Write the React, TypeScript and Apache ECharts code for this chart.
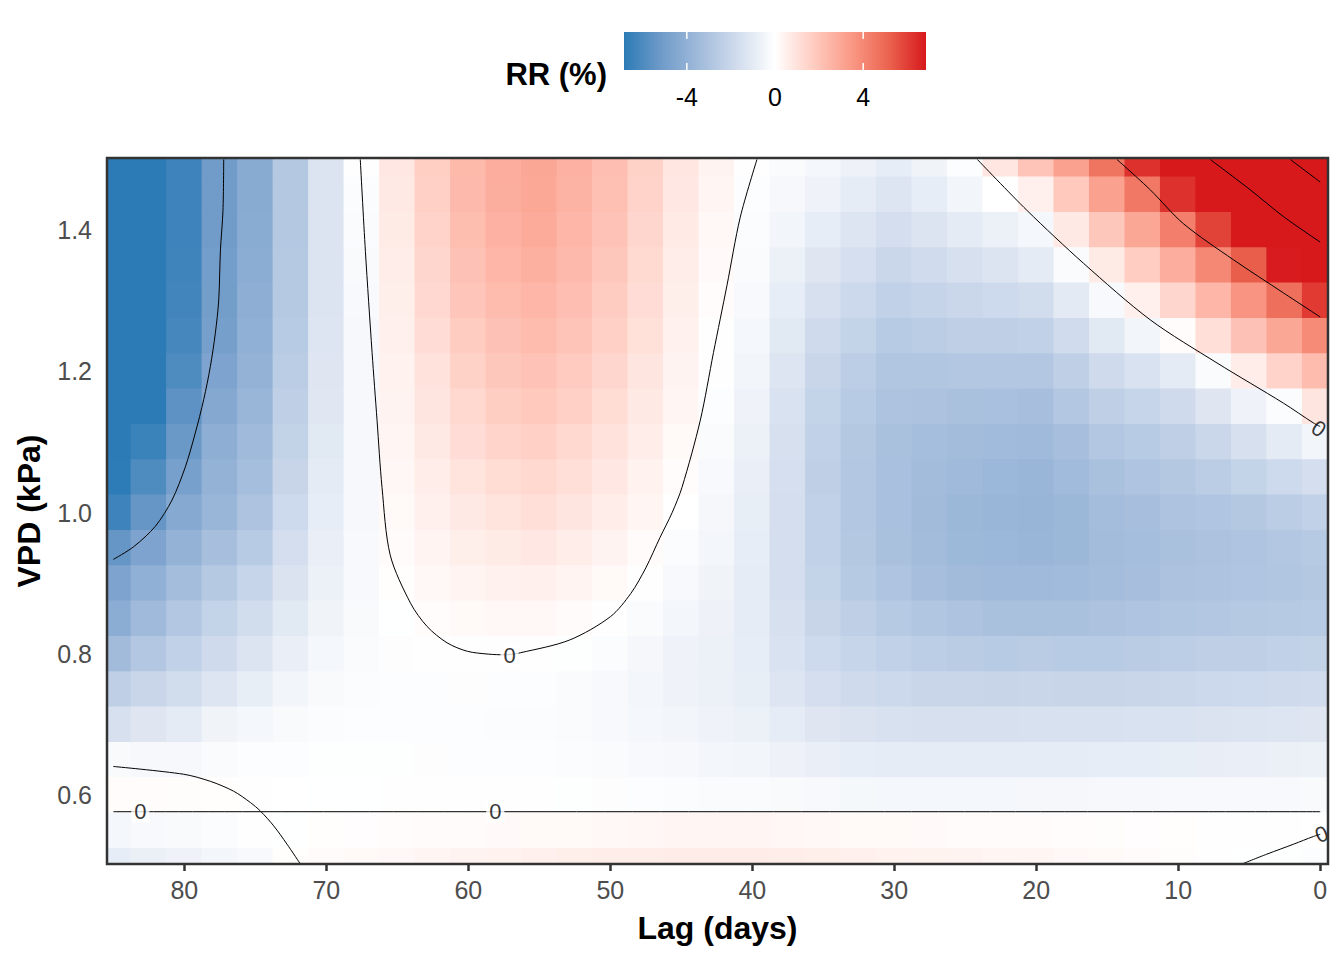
import React, { useEffect, useRef } from "react";
import * as echarts from "echarts";

// ---------- data ----------
// lag columns (days) and VPD rows (kPa, top to bottom)
const lags = [85, 82.5, 80, 77.5, 75, 72.5, 70, 67.5, 65, 62.5, 60, 57.5, 55, 52.5, 50, 47.5, 45, 42.5, 40, 37.5, 35, 32.5, 30, 27.5, 25, 22.5, 20, 17.5, 15, 12.5, 10, 7.5, 5, 2.5, 0];
const vpdRows = [1.5, 1.45, 1.4, 1.35, 1.3, 1.25, 1.2, 1.15, 1.1, 1.05, 1.0, 0.95, 0.9, 0.85, 0.8, 0.75, 0.7, 0.65, 0.6, 0.55, 0.5];

// RR (%) per lag column, one value per VPD row (1.5 -> 0.5)
const rrLag85 = [-7.5, -7.5, -7.5, -7.5, -7.5, -7.4, -7.3, -7.2, -7.0, -6.8, -6.4, -5.4, -4.7, -4.2, -3.4, -2.4, -1.5, -0.25, 0.1, -0.4, -0.9];
const rrLag82_5 = [-7.6, -7.6, -7.6, -7.6, -7.5, -7.4, -7.2, -6.9, -6.5, -6.0, -5.4, -4.7, -4.0, -3.5, -2.8, -2.0, -1.2, -0.35, 0.1, -0.3, -0.75];
const rrLag80 = [-6.4, -6.4, -6.4, -6.35, -6.3, -6.2, -6.0, -5.6, -5.3, -4.85, -4.4, -3.9, -3.3, -2.8, -2.3, -1.7, -1.0, -0.35, 0.08, -0.25, -0.6];
const rrLag77_5 = [-5.1, -5.1, -5.1, -5.05, -5.0, -4.9, -4.7, -4.45, -4.1, -3.9, -3.7, -3.2, -2.7, -2.2, -1.8, -1.25, -0.55, -0.2, 0.05, -0.15, -0.45];
const rrLag75 = [-4.3, -4.3, -4.25, -4.2, -4.1, -4.0, -3.9, -3.7, -3.5, -3.25, -3.0, -2.6, -2.1, -1.7, -1.3, -0.85, -0.4, -0.12, 0.02, -0.05, -0.3];
const rrLag72_5 = [-2.75, -2.75, -2.75, -2.7, -2.7, -2.6, -2.5, -2.4, -2.25, -2.05, -1.85, -1.6, -1.35, -1.1, -0.8, -0.5, -0.25, -0.1, 0.0, -0.02, 0.05];
const rrLag70 = [-1.3, -1.3, -1.3, -1.3, -1.3, -1.25, -1.2, -1.15, -1.1, -1.0, -0.9, -0.8, -0.7, -0.55, -0.4, -0.25, -0.15, -0.07, -0.02, 0.05, 0.15];
const rrLag67_5 = [-0.05, -0.15, -0.2, -0.25, -0.3, -0.35, -0.35, -0.35, -0.35, -0.35, -0.35, -0.3, -0.3, -0.25, -0.2, -0.15, -0.1, -0.06, -0.02, 0.06, 0.2];
const rrLag65 = [0.8, 0.75, 0.7, 0.62, 0.55, 0.5, 0.45, 0.4, 0.33, 0.27, 0.2, 0.12, 0.05, -0.02, -0.08, -0.1, -0.1, -0.07, -0.03, 0.1, 0.25];
const rrLag62_5 = [1.65, 1.6, 1.5, 1.4, 1.3, 1.15, 1.0, 0.88, 0.75, 0.62, 0.5, 0.37, 0.25, 0.1, -0.03, -0.1, -0.12, -0.09, -0.04, 0.12, 0.32];
const rrLag60 = [2.4, 2.35, 2.25, 2.1, 1.95, 1.75, 1.55, 1.35, 1.15, 0.95, 0.75, 0.55, 0.38, 0.2, 0.03, -0.08, -0.12, -0.1, -0.04, 0.15, 0.4];
const rrLag57_5 = [2.8, 2.75, 2.65, 2.5, 2.3, 2.1, 1.9, 1.68, 1.45, 1.2, 0.95, 0.7, 0.47, 0.24, 0.02, -0.1, -0.14, -0.11, -0.05, 0.18, 0.45];
const rrLag55 = [3.0, 2.95, 2.85, 2.7, 2.5, 2.3, 2.05, 1.85, 1.6, 1.35, 1.1, 0.8, 0.5, 0.25, 0.02, -0.1, -0.15, -0.12, -0.05, 0.2, 0.5];
const rrLag52_5 = [2.65, 2.6, 2.5, 2.35, 2.2, 2.0, 1.8, 1.6, 1.35, 1.1, 0.88, 0.62, 0.38, 0.15, -0.06, -0.2, -0.22, -0.17, -0.06, 0.22, 0.55];
const rrLag50 = [2.2, 2.15, 2.05, 1.9, 1.75, 1.6, 1.4, 1.2, 1.0, 0.8, 0.6, 0.4, 0.2, 0.02, -0.15, -0.3, -0.3, -0.22, -0.08, 0.25, 0.6];
const rrLag47_5 = [1.55, 1.5, 1.4, 1.28, 1.15, 1.03, 0.9, 0.75, 0.6, 0.45, 0.3, 0.13, -0.05, -0.2, -0.38, -0.45, -0.4, -0.28, -0.11, 0.28, 0.63];
const rrLag45 = [0.85, 0.8, 0.72, 0.62, 0.55, 0.48, 0.4, 0.3, 0.2, 0.1, 0.0, -0.15, -0.3, -0.45, -0.6, -0.6, -0.5, -0.35, -0.15, 0.3, 0.65];
const rrLag42_5 = [0.4, 0.33, 0.25, 0.17, 0.1, 0.03, -0.05, -0.12, -0.2, -0.3, -0.38, -0.45, -0.55, -0.65, -0.72, -0.72, -0.6, -0.45, -0.18, 0.3, 0.65];
const rrLag40 = [0.03, -0.1, -0.15, -0.2, -0.3, -0.4, -0.5, -0.6, -0.7, -0.8, -0.85, -0.9, -0.95, -0.95, -0.9, -0.85, -0.7, -0.5, -0.2, 0.3, 0.65];
const rrLag37_5 = [-0.2, -0.35, -0.5, -0.7, -0.9, -1.1, -1.25, -1.4, -1.5, -1.55, -1.6, -1.6, -1.6, -1.5, -1.4, -1.25, -0.95, -0.65, -0.25, 0.28, 0.6];
const rrLag35 = [-0.4, -0.6, -0.9, -1.2, -1.5, -1.8, -2.0, -2.2, -2.3, -2.35, -2.3, -2.3, -2.2, -2.05, -1.85, -1.6, -1.2, -0.8, -0.3, 0.25, 0.55];
const rrLag32_5 = [-0.65, -0.95, -1.25, -1.55, -1.9, -2.2, -2.45, -2.6, -2.75, -2.8, -2.8, -2.75, -2.65, -2.4, -2.1, -1.78, -1.35, -0.88, -0.36, 0.22, 0.5];
const rrLag30 = [-0.9, -1.25, -1.6, -1.95, -2.3, -2.6, -2.85, -3.0, -3.1, -3.15, -3.15, -3.1, -2.95, -2.65, -2.3, -1.9, -1.45, -0.95, -0.4, 0.2, 0.45];
const rrLag27_5 = [-0.55, -0.9, -1.3, -1.75, -2.15, -2.5, -2.85, -3.05, -3.25, -3.35, -3.4, -3.35, -3.2, -2.85, -2.45, -2.0, -1.5, -0.95, -0.4, 0.18, 0.42];
const rrLag25 = [-0.1, -0.5, -1.0, -1.5, -1.95, -2.4, -2.8, -3.1, -3.35, -3.5, -3.6, -3.55, -3.4, -3.0, -2.55, -2.0, -1.5, -0.95, -0.4, 0.15, 0.4];
const rrLag22_5 = [0.85, 0.0, -0.7, -1.3, -1.85, -2.35, -2.8, -3.15, -3.45, -3.65, -3.7, -3.65, -3.5, -3.1, -2.6, -2.05, -1.5, -0.95, -0.4, 0.14, 0.35];
const rrLag20 = [2.0, 0.5, -0.4, -1.0, -1.7, -2.3, -2.8, -3.2, -3.5, -3.7, -3.75, -3.7, -3.5, -3.1, -2.55, -2.0, -1.45, -0.95, -0.38, 0.12, 0.3];
const rrLag17_5 = [3.2, 1.85, 0.75, -0.2, -1.05, -1.75, -2.35, -2.8, -3.2, -3.45, -3.6, -3.6, -3.45, -3.1, -2.6, -2.05, -1.45, -0.93, -0.37, 0.1, 0.25];
const rrLag15 = [4.6, 3.2, 1.9, 0.7, -0.3, -1.1, -1.8, -2.35, -2.8, -3.1, -3.3, -3.35, -3.3, -3.05, -2.6, -2.05, -1.45, -0.9, -0.35, 0.08, 0.2];
const rrLag12_5 = [6.3, 4.5, 3.0, 1.7, 0.5, -0.5, -1.4, -2.1, -2.6, -2.95, -3.2, -3.25, -3.2, -2.95, -2.55, -2.0, -1.42, -0.88, -0.33, 0.06, 0.14];
const rrLag10 = [8.3, 6.3, 4.3, 2.8, 1.4, 0.1, -1.0, -1.8, -2.35, -2.75, -3.0, -3.1, -3.05, -2.85, -2.45, -1.95, -1.4, -0.85, -0.3, 0.05, 0.08];
const rrLag7_5 = [10.2, 8.1, 5.9, 4.0, 2.5, 1.1, -0.2, -1.2, -1.95, -2.5, -2.9, -3.05, -3.0, -2.8, -2.4, -1.9, -1.35, -0.83, -0.29, 0.03, 0.03];
const rrLag5 = [12.5, 10.0, 7.4, 5.3, 3.6, 2.1, 0.6, -0.6, -1.5, -2.2, -2.75, -2.95, -2.9, -2.7, -2.35, -1.85, -1.3, -0.8, -0.28, 0.02, -0.02];
const rrLag2_5 = [15.3, 12.2, 9.4, 6.8, 4.8, 3.0, 1.5, -0.15, -1.0, -1.85, -2.5, -2.8, -2.85, -2.65, -2.3, -1.8, -1.25, -0.75, -0.27, 0.02, -0.06];
const rrLag0 = [17.5, 14.0, 11.0, 8.3, 6.1, 3.9, 2.3, 0.9, -0.5, -1.6, -2.3, -2.65, -2.75, -2.6, -2.25, -1.75, -1.2, -0.7, -0.25, 0.01, -0.1];

const rrByLag = [rrLag85, rrLag82_5, rrLag80, rrLag77_5, rrLag75, rrLag72_5, rrLag70, rrLag67_5, rrLag65, rrLag62_5,
  rrLag60, rrLag57_5, rrLag55, rrLag52_5, rrLag50, rrLag47_5, rrLag45, rrLag42_5, rrLag40, rrLag37_5, rrLag35,
  rrLag32_5, rrLag30, rrLag27_5, rrLag25, rrLag22_5, rrLag20, rrLag17_5, rrLag15, rrLag12_5, rrLag10, rrLag7_5,
  rrLag5, rrLag2_5, rrLag0];

// contour lines [lag, vpd]
const contourZeroU = [[67.61, 1.5], [67.25, 1.37], [66.78, 1.227], [66.43, 1.131], [66.08, 1.036], [65.5, 0.94],
  [64.07, 0.872], [62.9, 0.839], [61.5, 0.816], [60.07, 0.804], [58.6, 0.8], [57.4, 0.799], [56.31, 0.802],
  [52.86, 0.82], [49.99, 0.853], [48.55, 0.886], [47.5, 0.922], [46.5, 0.965], [45.65, 1.0], [44.95, 1.036],
  [43.66, 1.131], [42.73, 1.227], [41.78, 1.322], [40.85, 1.418], [39.67, 1.5]];
const contourMinus5 = [[77.23, 1.5], [77.28, 1.428], [77.46, 1.372], [77.58, 1.301], [77.82, 1.254], [78.17, 1.207],
  [78.64, 1.16], [79.23, 1.113], [79.93, 1.065], [80.87, 1.018], [82.04, 0.981], [83.57, 0.952], [85, 0.934]];
const contourZeroTop = [[24.15, 1.5], [20.66, 1.428], [16.67, 1.353], [11.97, 1.273], [7.27, 1.212], [2.58, 1.155], [0.47, 1.127], [0, 1.122]];
const contourFive = [[14.32, 1.5], [11.97, 1.457], [9.63, 1.409], [6.11, 1.358], [2.58, 1.311], [0, 1.277]];
const contourTen = [[7.75, 1.5], [4.93, 1.457], [2.58, 1.419], [0, 1.383]];
const contourFifteen = [[2.11, 1.5], [0, 1.468]];
const contourZeroLowLeft = [[85, 0.641], [80.05, 0.63], [78.17, 0.62], [76.53, 0.606], [75.35, 0.59], [74.65, 0.578],
  [73.71, 0.557], [72.77, 0.531], [71.83, 0.503]];
const contourZeroCentre = [[85, 0.577], [0, 0.577]];
const contourZeroLowRight = [[5.51, 0.503], [3.75, 0.517], [1.88, 0.531], [0.47, 0.542], [0, 0.545]];

const contourLabelPoints = [[83.1, 0.577], [58.1, 0.577], [57.1, 0.798], [0.1, 1.119], [-0.1, 0.545]];

const xTicks = [0, 10, 20, 30, 40, 50, 60, 70, 80];
const yTicks = [0.6, 0.8, 1.0, 1.2, 1.4];
const legendTicks = [-4, 0, 4];
const rrLimit = 6.85;

// ---------- styling ----------
const FONT = "Liberation Sans, Arial, Helvetica, sans-serif";
const rrColors = ["#2c7bb6", "#709bc9", "#a1bbdb", "#d1dced", "#ffffff", "#ffcdc2", "#fa9a87", "#eb6450", "#d7191c"];
const labelAngles = [0, 0, 0, -34, 22];
const labelBg = [true, true, true, false, false];

export default function App() {
  const ref = useRef<HTMLDivElement>(null);

  useEffect(() => {
    if (!ref.current) return;
    const chart = echarts.init(ref.current, null, { renderer: "svg" });

    const cells: number[][] = [];
    rrByLag.forEach((col, c) => {
      col.forEach((v, r) => {
        cells.push([lags[c], vpdRows[r], v]);
      });
    });
    const halfLag = Math.abs(lags[0] - lags[1]) / 2;
    const halfVpd = Math.abs(vpdRows[0] - vpdRows[1]) / 2;

    const gridLeft = 107, gridTop = 158, gridW = 1221, gridH = 706;

    const lineSeries = (data: number[][]) => ({
      type: "line",
      data,
      showSymbol: false,
      symbol: "none",
      smooth: 0.3,
      silent: true,
      z: 3,
      lineStyle: { color: "#000", width: 1 },
      animation: false,
    });

    const barX = 624, barY = 32, barW = 302, barH = 38;
    const graphics: any[] = [
      {
        type: "rect",
        shape: { x: barX, y: barY, width: barW, height: barH },
        style: {
          fill: new echarts.graphic.LinearGradient(0, 0, 1, 0,
            rrColors.map((c, i) => ({ offset: i / (rrColors.length - 1), color: c }))),
        },
        silent: true,
        z: 10,
      },
      {
        type: "text",
        x: 607,
        y: 74,
        style: { text: "RR (%)", fontSize: 31, fontWeight: "bold", fontFamily: FONT, fill: "#000", align: "right", verticalAlign: "middle" },
        silent: true,
        z: 10,
      },
    ];
    legendTicks.forEach((t) => {
      const x = barX + ((t + rrLimit) / (2 * rrLimit)) * barW;
      graphics.push(
        { type: "line", shape: { x1: x, y1: barY, x2: x, y2: barY + 7 }, style: { stroke: "#fff", lineWidth: 1.5 }, silent: true, z: 11 },
        { type: "line", shape: { x1: x, y1: barY + barH - 7, x2: x, y2: barY + barH }, style: { stroke: "#fff", lineWidth: 1.5 }, silent: true, z: 11 },
        {
          type: "text", x, y: 97,
          style: { text: String(t), fontSize: 25, fontFamily: FONT, fill: "#000", align: "center", verticalAlign: "middle" },
          silent: true, z: 11,
        }
      );
    });
    graphics.push({
      type: "rect",
      shape: { x: gridLeft, y: gridTop, width: gridW, height: gridH },
      style: { fill: "none", stroke: "#333333", lineWidth: 2.5 },
      silent: true,
      z: 100,
    });

    const option: any = {
      animation: false,
      backgroundColor: "#ffffff",
      textStyle: { fontFamily: FONT },
      grid: { left: gridLeft, top: gridTop, width: gridW, height: gridH, containLabel: false, outerBoundsMode: "none" },
      xAxis: {
        type: "value",
        inverse: true,
        min: -0.55,
        max: 85.45,
        name: "Lag (days)",
        nameLocation: "middle",
        nameGap: 48,
        nameTextStyle: { fontSize: 32, fontWeight: "bold", color: "#000", fontFamily: FONT },
        axisLine: { show: false },
        axisTick: { show: true, length: 7, lineStyle: { color: "#333333", width: 2.5 }, customValues: xTicks },
        axisLabel: { customValues: xTicks, fontSize: 25, color: "#4d4d4d", margin: 13, fontFamily: FONT, formatter: (v: number) => String(v) },
        splitLine: { show: false },
      },
      yAxis: {
        type: "value",
        min: 0.503,
        max: 1.502,
        name: "VPD (kPa)",
        nameLocation: "middle",
        nameGap: 62,
        nameRotate: 90,
        nameTextStyle: { fontSize: 32, fontWeight: "bold", color: "#000", fontFamily: FONT },
        axisLine: { show: false },
        axisTick: { show: true, length: 7, lineStyle: { color: "#333333", width: 2.5 }, customValues: yTicks },
        axisLabel: { customValues: yTicks, fontSize: 25, color: "#4d4d4d", margin: 15, fontFamily: FONT, formatter: (v: number) => v.toFixed(1) },
        splitLine: { show: false },
      },
      visualMap: {
        type: "continuous",
        show: false,
        min: -rrLimit,
        max: rrLimit,
        dimension: 2,
        seriesIndex: 0,
        inRange: { color: rrColors },
      },
      graphic: graphics,
      series: [
        {
          type: "custom",
          data: cells,
          dimensions: ["lag", "vpd", "rr"],
          encode: { x: 0, y: 1 },
          silent: true,
          z: 1,
          renderItem: (params: any, api: any) => {
            const lag = api.value(0) as number;
            const vpd = api.value(1) as number;
            const a = api.coord([lag + halfLag, vpd + halfVpd]);
            const b = api.coord([lag - halfLag, vpd - halfVpd]);
            const cs = params.coordSys;
            const shape = echarts.graphic.clipRectByRect(
              {
                x: Math.min(a[0], b[0]) - 0.5,
                y: Math.min(a[1], b[1]) - 0.5,
                width: Math.abs(a[0] - b[0]) + 1,
                height: Math.abs(a[1] - b[1]) + 1,
              },
              { x: cs.x, y: cs.y, width: cs.width, height: cs.height }
            );
            if (!shape) return null;
            return { type: "rect", shape, style: { fill: api.visual("color") } };
          },
        },
        lineSeries(contourZeroU),
        lineSeries(contourMinus5),
        lineSeries(contourZeroTop),
        lineSeries(contourFive),
        lineSeries(contourTen),
        lineSeries(contourFifteen),
        lineSeries(contourZeroLowLeft),
        lineSeries(contourZeroCentre),
        lineSeries(contourZeroLowRight),
        {
          type: "scatter",
          silent: true,
          z: 5,
          symbolSize: 1,
          itemStyle: { color: "rgba(0,0,0,0)" },
          data: contourLabelPoints.map((p, i) => ({
            value: p,
            label: {
              show: true,
              position: "inside",
              formatter: "0",
              rotate: labelAngles[i],
              fontSize: 22,
              fontFamily: FONT,
              color: "#000",
              backgroundColor: labelBg[i] ? "#ffffff" : "transparent",
              padding: [0, 3],
            },
          })),
        },
      ],
    };

    chart.setOption(option);
    return () => chart.dispose();
  }, []);

  return (
    <div
      ref={ref}
      style={{ position: "absolute", left: 0, top: 0, width: 1344, height: 960, background: "#fff" }}
    />
  );
}
